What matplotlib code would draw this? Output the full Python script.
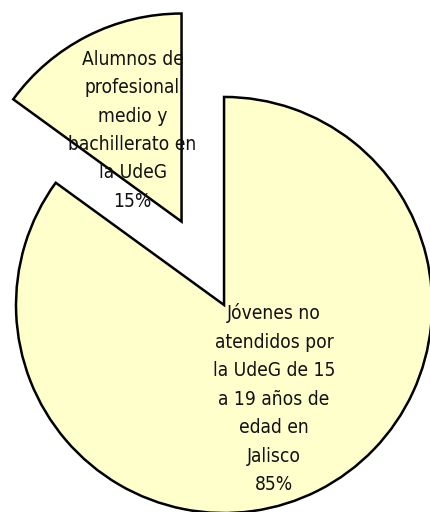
import matplotlib
matplotlib.use("Agg")
import matplotlib.pyplot as plt

# slice data
labels = ["Jóvenes no\natendidos por\nla UdeG de 15\na 19 años de\nedad en\nJalisco",
          "Alumnos de\nprofesional\nmedio y\nbachillerato en\nla UdeG"]
values = [85, 15]
explode = [0, 0.45]

fig = plt.figure(figsize=(4.3, 5.12), dpi=100)
ax = fig.add_axes([0, 0, 1, 1])

wedges, _ = ax.pie(values, explode=explode, startangle=90, counterclock=False,
                   colors=["#FFFFCC", "#FFFFCC"],
                   wedgeprops=dict(edgecolor="black", linewidth=1.8))

fnt = dict(family="DejaVu Sans", fontstretch="condensed", fontsize=13.8,
           ha="center", va="center", linespacing=1.63, color="#111111")
# label positions in data units (radius = 1)
pos = [(0.24, -0.45), (-0.44, 0.84)]
for lab, v, (x, y) in zip(labels, values, pos):
    ax.text(x, y, f"{lab}\n{v}%", **fnt)

ax.set_xlim(-1.077, 0.990)
ax.set_ylim(-0.995, 1.466)
ax.set_aspect("auto")
ax.axis("off")

fig.savefig("out.png", dpi=100)
